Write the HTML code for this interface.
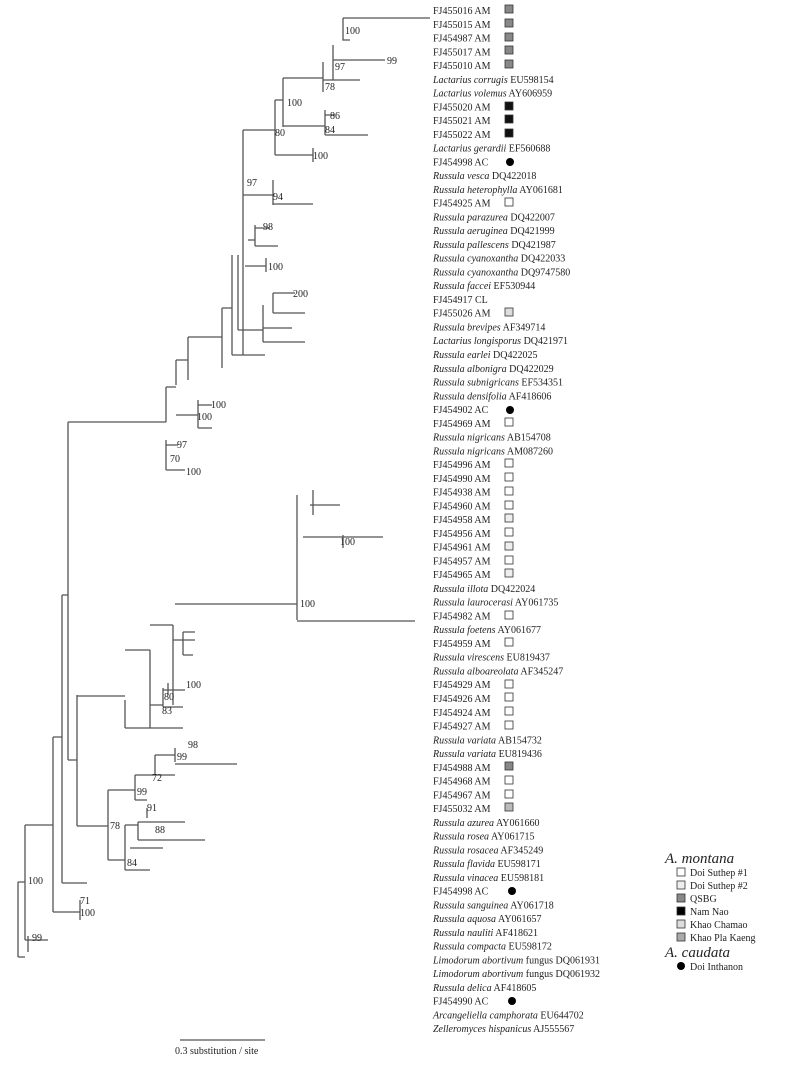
<!DOCTYPE html>
<html><head><meta charset="utf-8"><style>
body{margin:0;background:#fff;width:800px;height:1074px;overflow:hidden}
svg{display:block}
text{font-family:"Liberation Serif",serif;font-size:10px;fill:#222}
.i{font-style:italic}
</style></head><body>
<svg width="800" height="1074" viewBox="0 0 800 1074">
<g stroke="#555" stroke-width="1.3" fill="none">
<!-- upper tree -->
<path d="M68 422 V760 M68 422 H166"/>
<path d="M343 18 H430 M343 18 V40 H350 M333 45 V80 M333 60 H385 M323 62 V92 M323 80 H360 M283 78 V127 M283 78 H323 M275 100 V155 M275 100 H283"/>
<path d="M283 126 H325 M325 110 V135 M325 135 H368 M325 115 H335 M275 155 H313 M313 148 V162"/>
<path d="M243 130 V355 M243 130 H275 M273 180 V205 M243 195 H273 M273 204 H313 M255 225 V246 M248 240 H255 M255 246 H278 M255 228 H270 M245 266 H266 M266 258 V272"/>
<path d="M273 293 V313 M273 293 H295 M273 313 H305 M263 305 V342 M263 328 H292 M263 342 H305 M238 255 V330 M238 330 H263 M232 355 H265 M232 255 V355"/>
<path d="M222 308 V368 M222 308 H232 M188 337 V380 M188 337 H222 M176 360 V385 M176 360 H188 M166 387 V422 M166 387 H176 M198 400 V428 M176 415 H198 M198 405 H212 M198 428 H212"/>
<path d="M166 440 V470 M166 445 H178 M166 470 H185"/>
<!-- lower tree -->
<path d="M68 760 H77 M62 595 V883 M62 595 H68 M77 695 V826 M62 883 H87"/>
<path d="M125 700 V728 M77 696 H125 M150 650 V728 M125 650 H150 M173 625 V705 M150 625 H173 M175 604 H297 M297 495 V620 M297 621 H415 M303 537 H383 M343 535 V548 M310 505 H340 M313 490 V515 M173 640 H195 M183 632 V655 M183 632 H195 M183 655 H193"/>
<path d="M163 688 V707 M150 705 H163 M168 683 V695 M163 690 H185 M163 707 H183 M125 728 H183"/>
<path d="M77 826 H108 M108 790 V860 M108 790 H135 M135 775 V800 M135 775 H155 M155 755 V775 M155 755 H175 M175 748 V762 M175 764 H237 M155 775 H175 M135 800 H147 M147 808 V818 M108 860 H125 M125 825 V870 M125 825 H138 M138 822 V840 M138 822 H185 M138 840 H205 M130 848 H163 M125 870 H150"/>
<path d="M53 737 V912 M53 737 H62 M53 912 H80 M80 900 V920 M25 825 V940 M25 825 H53 M18 882 V957 M18 882 H25 M18 957 H25 M25 940 H48 M28 936 V952"/>
<!-- scale -->
<path d="M180 1040 H265"/>
</g>
<g font-size="10">
<text x="345" y="34">100</text><text x="387" y="64">99</text><text x="335" y="70">97</text><text x="325" y="90">78</text>
<text x="287" y="106">100</text><text x="275" y="136">80</text><text x="330" y="119">86</text><text x="325" y="133">84</text>
<text x="313" y="159">100</text><text x="247" y="186">97</text><text x="273" y="200">94</text><text x="263" y="230">98</text>
<text x="268" y="270">100</text><text x="293" y="297">200</text>
<text x="211" y="408">100</text><text x="197" y="420">100</text><text x="177" y="448">97</text><text x="170" y="462">70</text><text x="186" y="475">100</text>
<text x="340" y="545">100</text><text x="300" y="607">100</text><text x="186" y="688">100</text><text x="164" y="700">80</text><text x="162" y="714">83</text>
<text x="188" y="748">98</text><text x="177" y="760">99</text><text x="152" y="781">72</text><text x="137" y="795">99</text><text x="147" y="811">91</text>
<text x="110" y="829">78</text><text x="155" y="833">88</text><text x="127" y="866">84</text>
<text x="28" y="884">100</text><text x="80" y="904">71</text><text x="80" y="916">100</text><text x="32" y="941">99</text>
<text x="175" y="1054">0.3 substitution / site</text>
</g>
<g id="labels">
<text x="433" y="14">FJ455016 AM</text>
<text x="433" y="27.8">FJ455015 AM</text>
<text x="433" y="41.5">FJ454987 AM</text>
<text x="433" y="55.3">FJ455017 AM</text>
<text x="433" y="69">FJ455010 AM</text>
<text x="433" y="82.8"><tspan class="i">Lactarius corrugis</tspan> EU598154</text>
<text x="433" y="96.6"><tspan class="i">Lactarius volemus</tspan> AY606959</text>
<text x="433" y="110.3">FJ455020 AM</text>
<text x="433" y="124.1">FJ455021 AM</text>
<text x="433" y="137.8">FJ455022 AM</text>
<text x="433" y="151.6"><tspan class="i">Lactarius gerardii</tspan> EF560688</text>
<text x="433" y="165.4">FJ454998 AC</text>
<text x="433" y="179.1"><tspan class="i">Russula vesca</tspan> DQ422018</text>
<text x="433" y="192.9"><tspan class="i">Russula heterophylla</tspan> AY061681</text>
<text x="433" y="206.6">FJ454925 AM</text>
<text x="433" y="220.4"><tspan class="i">Russula parazurea</tspan> DQ422007</text>
<text x="433" y="234.2"><tspan class="i">Russula aeruginea</tspan> DQ421999</text>
<text x="433" y="247.9"><tspan class="i">Russula pallescens</tspan> DQ421987</text>
<text x="433" y="261.7"><tspan class="i">Russula cyanoxantha</tspan> DQ422033</text>
<text x="433" y="275.4"><tspan class="i">Russula cyanoxantha</tspan> DQ9747580</text>
<text x="433" y="289.2"><tspan class="i">Russula faccei</tspan> EF530944</text>
<text x="433" y="303">FJ454917 CL</text>
<text x="433" y="316.7">FJ455026 AM</text>
<text x="433" y="330.5"><tspan class="i">Russula brevipes</tspan> AF349714</text>
<text x="433" y="344.2"><tspan class="i">Lactarius longisporus</tspan> DQ421971</text>
<text x="433" y="358"><tspan class="i">Russula earlei</tspan> DQ422025</text>
<text x="433" y="371.8"><tspan class="i">Russula albonigra</tspan> DQ422029</text>
<text x="433" y="385.5"><tspan class="i">Russula subnigricans</tspan> EF534351</text>
<text x="433" y="399.3"><tspan class="i">Russula densifolia</tspan> AF418606</text>
<text x="433" y="413">FJ454902 AC</text>
<text x="433" y="426.8">FJ454969 AM</text>
<text x="433" y="440.6"><tspan class="i">Russula nigricans</tspan> AB154708</text>
<text x="433" y="454.3"><tspan class="i">Russula nigricans</tspan> AM087260</text>
<text x="433" y="468.1">FJ454996 AM</text>
<text x="433" y="481.8">FJ454990 AM</text>
<text x="433" y="495.6">FJ454938 AM</text>
<text x="433" y="509.4">FJ454960 AM</text>
<text x="433" y="523.1">FJ454958 AM</text>
<text x="433" y="536.9">FJ454956 AM</text>
<text x="433" y="550.6">FJ454961 AM</text>
<text x="433" y="564.4">FJ454957 AM</text>
<text x="433" y="578.2">FJ454965 AM</text>
<text x="433" y="591.9"><tspan class="i">Russula illota</tspan> DQ422024</text>
<text x="433" y="605.7"><tspan class="i">Russula laurocerasi</tspan> AY061735</text>
<text x="433" y="619.4">FJ454982 AM</text>
<text x="433" y="633.2"><tspan class="i">Russula foetens</tspan> AY061677</text>
<text x="433" y="647">FJ454959 AM</text>
<text x="433" y="660.7"><tspan class="i">Russula virescens</tspan> EU819437</text>
<text x="433" y="674.5"><tspan class="i">Russula alboareolata</tspan> AF345247</text>
<text x="433" y="688.2">FJ454929 AM</text>
<text x="433" y="702">FJ454926 AM</text>
<text x="433" y="715.8">FJ454924 AM</text>
<text x="433" y="729.5">FJ454927 AM</text>
<text x="433" y="743.3"><tspan class="i">Russula variata</tspan> AB154732</text>
<text x="433" y="757"><tspan class="i">Russula variata</tspan> EU819436</text>
<text x="433" y="770.8">FJ454988 AM</text>
<text x="433" y="784.6">FJ454968 AM</text>
<text x="433" y="798.3">FJ454967 AM</text>
<text x="433" y="812.1">FJ455032 AM</text>
<text x="433" y="825.8"><tspan class="i">Russula azurea</tspan> AY061660</text>
<text x="433" y="839.6"><tspan class="i">Russula rosea</tspan> AY061715</text>
<text x="433" y="853.4"><tspan class="i">Russula rosacea</tspan> AF345249</text>
<text x="433" y="867.1"><tspan class="i">Russula flavida</tspan> EU598171</text>
<text x="433" y="880.9"><tspan class="i">Russula vinacea</tspan> EU598181</text>
<text x="433" y="894.6">FJ454998 AC</text>
<text x="433" y="908.4"><tspan class="i">Russula sanguinea</tspan> AY061718</text>
<text x="433" y="922.2"><tspan class="i">Russula aquosa</tspan> AY061657</text>
<text x="433" y="935.9"><tspan class="i">Russula nauliti</tspan> AF418621</text>
<text x="433" y="949.7"><tspan class="i">Russula compacta</tspan> EU598172</text>
<text x="433" y="963.4"><tspan class="i">Limodorum abortivum</tspan> fungus DQ061931</text>
<text x="433" y="977.2"><tspan class="i">Limodorum abortivum</tspan> fungus DQ061932</text>
<text x="433" y="991"><tspan class="i">Russula delica</tspan> AF418605</text>
<text x="433" y="1004.7">FJ454990 AC</text>
<text x="433" y="1018.5"><tspan class="i">Arcangeliella camphorata</tspan> EU644702</text>
<text x="433" y="1032.2"><tspan class="i">Zelleromyces hispanicus</tspan> AJ555567</text>
</g>
<g stroke="#333" stroke-width="0.8">
<rect x="505" y="5" width="8" height="8" fill="#888"/><rect x="505" y="19" width="8" height="8" fill="#888"/><rect x="505" y="33" width="8" height="8" fill="#888"/><rect x="505" y="46" width="8" height="8" fill="#888"/><rect x="505" y="60" width="8" height="8" fill="#888"/>
<rect x="505" y="102" width="8" height="8" fill="#111"/><rect x="505" y="115" width="8" height="8" fill="#111"/><rect x="505" y="129" width="8" height="8" fill="#111"/>
<rect x="505" y="198" width="8" height="8" fill="#fff"/>
<rect x="505" y="308" width="8" height="8" fill="#ddd"/>
<rect x="505" y="418" width="8" height="8" fill="#fff"/>
<rect x="505" y="459" width="8" height="8" fill="#fff"/><rect x="505" y="473" width="8" height="8" fill="#fff"/><rect x="505" y="487" width="8" height="8" fill="#fff"/><rect x="505" y="501" width="8" height="8" fill="#fff"/><rect x="505" y="514" width="8" height="8" fill="#eee"/><rect x="505" y="528" width="8" height="8" fill="#fff"/><rect x="505" y="542" width="8" height="8" fill="#eee"/><rect x="505" y="556" width="8" height="8" fill="#fff"/><rect x="505" y="569" width="8" height="8" fill="#eee"/>
<rect x="505" y="611" width="8" height="8" fill="#fff"/><rect x="505" y="638" width="8" height="8" fill="#fff"/>
<rect x="505" y="680" width="8" height="8" fill="#fff"/><rect x="505" y="693" width="8" height="8" fill="#fff"/><rect x="505" y="707" width="8" height="8" fill="#fff"/><rect x="505" y="721" width="8" height="8" fill="#fff"/>
<rect x="505" y="762" width="8" height="8" fill="#888"/><rect x="505" y="776" width="8" height="8" fill="#fff"/><rect x="505" y="790" width="8" height="8" fill="#fff"/><rect x="505" y="803" width="8" height="8" fill="#bbb"/>
</g>
<g fill="#000">
<circle cx="510" cy="162" r="4"/><circle cx="510" cy="410" r="4"/><circle cx="512" cy="891" r="4"/><circle cx="512" cy="1001" r="4"/>
</g>
<g>
<text x="665" y="863" class="i" style="font-size:15px">A. montana</text>
<g stroke="#333" stroke-width="0.8">
<rect x="677" y="868" width="8" height="8" fill="#fff"/>
<rect x="677" y="881" width="8" height="8" fill="#eee"/>
<rect x="677" y="894" width="8" height="8" fill="#888"/>
<rect x="677" y="907" width="8" height="8" fill="#000"/>
<rect x="677" y="920" width="8" height="8" fill="#ddd"/>
<rect x="677" y="933" width="8" height="8" fill="#aaa"/>
</g>
<text x="690" y="876">Doi Suthep #1</text>
<text x="690" y="889">Doi Suthep #2</text>
<text x="690" y="902">QSBG</text>
<text x="690" y="915">Nam Nao</text>
<text x="690" y="928">Khao Chamao</text>
<text x="690" y="941">Khao Pla Kaeng</text>
<text x="665" y="957" class="i" style="font-size:15px">A. caudata</text>
<circle cx="681" cy="966" r="4" fill="#000"/>
<text x="690" y="970">Doi Inthanon</text>
</g>
</svg>
</body></html>
